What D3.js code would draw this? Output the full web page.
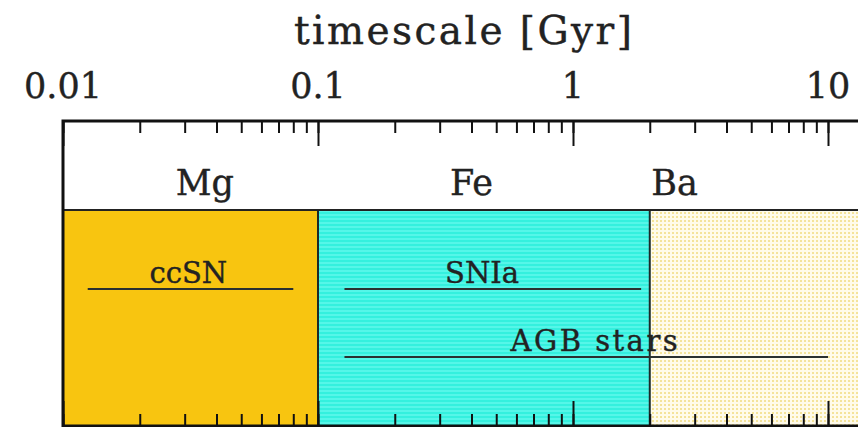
<html>
  <head>
    <meta charset="utf-8">
    <title>timescale</title>
    <script src="https://d3js.org/d3.v7.min.js"></script>
    <style>
      body { margin: 0; background: #fff; }
      text { font-family: "DejaVu Serif", serif; fill: #222; stroke: #222; stroke-width: 0.4; }
    </style>
  </head>
  <body>
    <svg width="858" height="427"></svg>

    <script type="text/javascript">
      // elements and the time ranges they are produced in (Gyr)
      var elements = ["Mg", "Fe", "Ba"];
      var elementStart = [0.01, 0.1, 2];
      var elementEnd = [0.1, 2, 13.7];
      var elementLabelAt = [0.036, 0.4, 2.5];

      // enrichment sources
      var sources = ["ccSN", "SNIa", "AGB stars"];
      var sourceStart = [0.0125, 0.127, 0.127];
      var sourceEnd = [0.08, 1.85, 10];
      var sourceRow = [0, 0, 1];
      var sourceLabelAt = [0.031, 0.44, 1.21];

      var majorTicks = [0.01, 0.1, 1, 10];
      var tickLabels = ["0.01", "0.1", "1", "10"];

      var frame = {top: 121, bottom: 426, band: 210};

      var xScale = d3.scaleLog().domain([0.01, 10]).range([63, 828]);
      var yRow = d3.scaleLinear().domain([0, 1]).range([289, 357]);

      var svg = d3.select("svg");
      var defs = svg.append("defs");

      var stripes = defs.append("pattern").attr("id", "stripes")
        .attr("patternUnits", "userSpaceOnUse").attr("width", 4).attr("height", 4);
      stripes.append("rect").attr("width", 4).attr("height", 4).attr("fill", "#34f0de");
      stripes.append("rect").attr("y", 2).attr("width", 4).attr("height", 2).attr("fill", "#55f6e8");

      var dots = defs.append("pattern").attr("id", "dots")
        .attr("patternUnits", "userSpaceOnUse").attr("width", 4).attr("height", 4);
      dots.append("rect").attr("width", 4).attr("height", 4).attr("fill", "#fffbea");
      dots.append("rect").attr("width", 2).attr("height", 2).attr("fill", "#f4e39a");

      var fills = ["#f8c510", "url(#stripes)", "url(#dots)"];

      // element regions
      svg.selectAll("rect.region")
        .data(elements)
        .enter()
        .append("rect")
        .attr("class", "region")
        .attr("x", (d, i) => xScale(elementStart[i]))
        .attr("y", frame.band)
        .attr("width", (d, i) => xScale(elementEnd[i]) - xScale(elementStart[i]))
        .attr("height", frame.bottom - frame.band)
        .attr("fill", (d, i) => fills[i]);

      // region boundaries
      svg.selectAll("line.boundary")
        .data(elementStart.slice(1))
        .enter()
        .append("line")
        .attr("x1", d => xScale(d)).attr("x2", d => xScale(d))
        .attr("y1", frame.band).attr("y2", frame.bottom)
        .attr("stroke", "#1a2a2a").attr("stroke-width", 2);

      svg.append("line")
        .attr("x1", xScale(0.01)).attr("x2", xScale(elementEnd[2]))
        .attr("y1", frame.band).attr("y2", frame.band)
        .attr("stroke", "#222").attr("stroke-width", 2);

      svg.selectAll("text.element")
        .data(elements)
        .enter()
        .append("text")
        .attr("x", (d, i) => xScale(elementLabelAt[i]))
        .attr("y", 195)
        .attr("text-anchor", "middle")
        .attr("font-size", 35)
        .text(d => d);

      // source lines
      svg.selectAll("line.source")
        .data(sources)
        .enter()
        .append("line")
        .attr("x1", (d, i) => xScale(sourceStart[i]))
        .attr("x2", (d, i) => xScale(sourceEnd[i]))
        .attr("y1", (d, i) => yRow(sourceRow[i]))
        .attr("y2", (d, i) => yRow(sourceRow[i]))
        .attr("stroke", "#2a3030").attr("stroke-width", 2);

      svg.selectAll("text.source")
        .data(sources)
        .enter()
        .append("text")
        .attr("x", (d, i) => xScale(sourceLabelAt[i]))
        .attr("y", (d, i) => yRow(sourceRow[i]) - 6)
        .attr("text-anchor", "middle")
        .attr("font-size", 29)
        .each(function (d) {
          if (d == "AGB stars") d3.select(this).attr("textLength", 167).attr("lengthAdjust", "spacing");
        })
        .text(d => d);

      // ticks top and bottom, pointing inward
      var minorTop = d3.axisBottom(xScale).ticks(10).tickSize(12).tickFormat("");
      var majorTop = d3.axisBottom(xScale).tickValues(majorTicks).tickSize(25).tickFormat("");
      var minorBot = d3.axisTop(xScale).ticks(10).tickSize(12).tickFormat("");
      var majorBot = d3.axisTop(xScale).tickValues(majorTicks).tickSize(25).tickFormat("");

      [minorTop, majorTop].forEach(function (ax) {
        svg.append("g").attr("transform", "translate(0," + frame.top + ")").call(ax);
      });
      [minorBot, majorBot].forEach(function (ax) {
        svg.append("g").attr("transform", "translate(0," + frame.bottom + ")").call(ax);
      });
      svg.selectAll(".domain").remove();
      svg.selectAll(".tick line").attr("stroke", "#111").attr("stroke-width", 2);

      svg.selectAll("text.ticklabel")
        .data(majorTicks)
        .enter()
        .append("text")
        .attr("x", d => xScale(d))
        .attr("y", 98)
        .attr("text-anchor", "middle")
        .attr("font-size", 35)
        .text((d, i) => tickLabels[i]);

      svg.append("text")
        .attr("x", (xScale(0.01) + xScale(elementEnd[2])) / 2)
        .attr("y", 44)
        .attr("text-anchor", "middle")
        .attr("font-size", 39)
        .attr("textLength", 338)
        .attr("lengthAdjust", "spacing")
        .text("timescale [Gyr]");

      // frame
      svg.append("rect")
        .attr("x", xScale(0.01))
        .attr("y", frame.top)
        .attr("width", xScale(elementEnd[2]) - xScale(0.01))
        .attr("height", frame.bottom - frame.top)
        .attr("fill", "none")
        .attr("stroke", "#111")
        .attr("stroke-width", 3);
    </script>
  </body>
</html>
